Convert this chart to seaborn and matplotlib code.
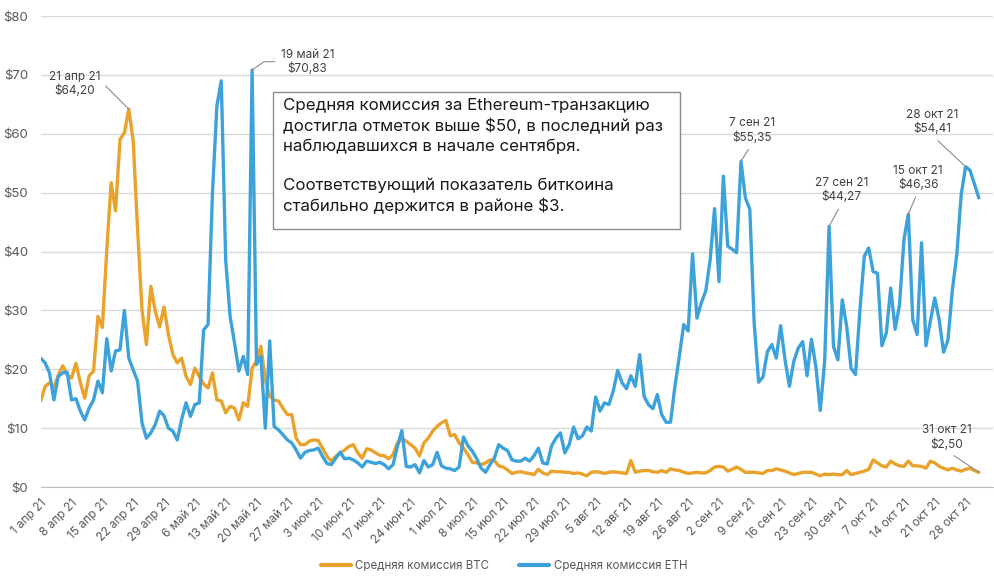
import pandas as pd
import seaborn as sns
import matplotlib.pyplot as plt
from matplotlib.patches import Rectangle

# daily average fees, 1 Apr 2021 - 31 Oct 2021
btc_apr = [14.6, 17.1, 17.7, 17.0, 19.0, 20.6, 19.1, 18.5, 21.0, 17.7, 15.1, 18.9, 19.7, 29.0, 27.1,
           40.3, 51.7, 46.9, 59.0, 60.2, 64.2, 58.8, 43.7, 30.1, 24.2, 34.1, 29.9, 27.2, 30.6, 25.9]
btc_may = [22.5, 21.1, 21.9, 18.8, 17.4, 20.2, 18.8, 17.5, 16.8, 19.4, 14.8, 14.6, 12.6, 13.7, 13.4,
           11.4, 14.3, 13.7, 20.2, 21.4, 23.9, 18.2, 15.4, 14.8, 14.6, 13.4, 12.3, 12.3, 8.3, 7.2, 7.2]
btc_jun = [7.8, 8.0, 7.9, 6.6, 5.2, 4.4, 5.2, 5.8, 6.3, 6.9, 7.2, 5.8, 4.9, 6.5, 6.3,
           5.8, 5.4, 5.3, 4.8, 5.5, 7.5, 8.2, 7.8, 7.2, 6.6, 5.3, 7.5, 8.3, 9.5, 10.3]
btc_jul = [10.9, 11.3, 8.7, 8.9, 7.5, 6.6, 5.5, 4.2, 4.1, 3.8, 4.1, 4.6, 4.5, 3.6, 3.4,
           2.9, 2.3, 2.5, 2.6, 2.4, 2.3, 2.1, 3.0, 2.4, 2.1, 2.7, 2.6, 2.6, 2.5, 2.5, 2.3]
btc_aug = [2.4, 2.2, 1.9, 2.5, 2.6, 2.5, 2.3, 2.5, 2.6, 2.5, 2.4, 2.3, 4.5, 2.5, 2.7,
           2.8, 2.8, 2.6, 2.5, 2.8, 2.5, 3.1, 2.9, 2.8, 2.5, 2.3, 2.4, 2.5, 2.4, 2.4, 2.8]
btc_sep = [3.4, 3.5, 3.4, 2.7, 3.0, 3.4, 3.0, 2.5, 2.5, 2.5, 2.4, 2.3, 2.8, 2.8, 3.1,
           2.9, 2.7, 2.4, 2.1, 2.3, 2.5, 2.5, 2.5, 2.2, 1.9, 2.2, 2.1, 2.2, 2.1, 2.1]
btc_oct = [2.8, 2.1, 2.3, 2.5, 2.7, 3.0, 4.6, 4.1, 3.6, 3.4, 4.4, 3.9, 3.6, 3.5, 4.4,
           3.6, 3.6, 3.5, 3.2, 4.4, 4.1, 3.5, 3.2, 2.9, 3.2, 2.9, 2.7, 3.0, 3.2, 2.8, 2.5]

eth_apr = [21.9, 21.1, 19.4, 14.8, 18.8, 19.4, 19.5, 14.8, 15.0, 12.9, 11.4, 13.4, 14.8, 18.0, 16.0,
           25.2, 19.7, 23.1, 23.3, 30.0, 21.9, 19.9, 18.0, 10.9, 8.3, 9.2, 10.6, 12.9, 12.1, 10.0]
eth_may = [9.5, 8.0, 11.5, 14.3, 12.0, 14.0, 14.3, 26.7, 27.6, 50.0, 64.7, 69.0, 38.6, 29.0, 24.5,
           19.7, 22.2, 19.1, 70.83, 20.8, 22.2, 10.0, 24.8, 10.3, 9.7, 8.9, 8.0, 7.5, 6.3, 4.9, 5.9]
eth_jun = [6.2, 6.3, 6.6, 5.2, 4.0, 3.8, 4.9, 5.9, 4.8, 4.9, 4.6, 4.1, 3.4, 4.4, 4.2,
           4.0, 4.2, 3.8, 3.1, 3.8, 6.9, 9.6, 3.5, 3.4, 3.8, 2.4, 4.5, 3.4, 3.8, 5.9]
eth_jul = [3.6, 3.2, 3.1, 2.8, 3.4, 8.5, 7.0, 6.1, 4.8, 3.2, 2.5, 3.8, 4.9, 7.2, 6.6,
           6.2, 4.6, 4.4, 4.4, 4.9, 4.4, 5.3, 6.6, 4.1, 3.9, 7.0, 8.3, 9.2, 5.8, 7.2, 10.2]
eth_aug = [8.2, 8.7, 10.2, 9.5, 15.3, 12.9, 14.3, 14.0, 16.3, 19.8, 17.7, 16.7, 18.9, 17.1, 22.5,
           15.4, 14.0, 13.3, 15.7, 12.3, 11.0, 11.0, 17.1, 22.2, 27.6, 26.5, 39.6, 28.7, 31.3, 33.3, 38.6]
eth_sep = [47.3, 34.9, 52.8, 40.9, 40.4, 39.8, 55.35, 49.1, 47.2, 27.8, 17.8, 18.7, 23.0, 24.2, 21.9,
           27.4, 21.6, 17.1, 21.4, 23.6, 24.7, 18.9, 25.1, 20.5, 13.0, 21.4, 44.27, 23.9, 21.6, 31.8]
eth_oct = [27.3, 20.2, 19.1, 30.0, 39.2, 40.6, 36.6, 36.3, 24.0, 26.2, 33.8, 26.8, 31.0, 42.0, 46.36,
           28.4, 25.9, 41.5, 24.0, 28.2, 32.1, 28.4, 22.9, 25.0, 33.5, 39.5, 49.7, 54.41, 53.8, 51.5, 49.1]

series_names = ["Средняя комиссия BTC", "Средняя комиссия ETH"]
month_names = {4: "апр", 5: "май", 6: "июн", 7: "июл", 8: "авг", 9: "сен", 10: "окт"}

# callouts: date, series, label, text offset (pt), where the leader leaves the label, leader style
callouts = [
    ("2021-04-21", "btc", "21 апр 21\n$64,20", (-39, 18), (1.0, 0.5), "angle,angleA=0,angleB=-45,rad=0"),
    ("2021-05-19", "eth", "19 май 21\n$70,83", (40, 6), (0.0, 0.5), "angle,angleA=0,angleB=35,rad=0"),
    ("2021-09-07", "eth", "7 сен 21\n$55,35", (8, 22), (0.5, 0.0), "arc3"),
    ("2021-09-27", "eth", "27 сен 21\n$44,27", (9, 26), (0.5, 0.0), "arc3"),
    ("2021-10-15", "eth", "15 окт 21\n$46,36", (7, 26), (0.5, 0.0), "arc3"),
    ("2021-10-28", "eth", "28 окт 21\n$54,41", (-24, 32), (0.5, 0.0), "arc3"),
    ("2021-10-31", "btc", "31 окт 21\n$2,50", (-23, 25), (0.5, 0.0), "arc3"),
]

note = ("Средняя комиссия за Ethereum-транзакцию\n"
        "достигла отметок выше $50, в последний раз\n"
        "наблюдавшихся в начале сентября.\n\n"
        "Соответствующий показатель биткоина\n"
        "стабильно держится в районе $3.")

btc = btc_apr + btc_may + btc_jun + btc_jul + btc_aug + btc_sep + btc_oct
eth = eth_apr + eth_may + eth_jun + eth_jul + eth_aug + eth_sep + eth_oct
dates = pd.date_range("2021-04-01", "2021-10-31", freq="D")

df = pd.DataFrame({"date": dates, series_names[0]: btc, series_names[1]: eth})
long_df = df.melt(id_vars="date", var_name="series", value_name="fee")

sns.set_style("white")
plt.rcParams["font.family"] = ["Inter", "DejaVu Sans"]

orange = "#E9A22B"
blue = "#3DA1DA"
grey_txt = "#595959"

fig = plt.figure(figsize=(9.95, 5.8), dpi=100)
ax = fig.add_axes([0.0409, 0.1603, 0.957, 0.812])

sns.lineplot(data=long_df, x="date", y="fee", hue="series", hue_order=series_names,
             palette=[orange, blue], linewidth=2.4, ax=ax)

ax.set_xlim(dates[0], dates[0] + pd.Timedelta(days=216.2))
ax.set_ylim(0, 80)
ax.set_yticks(range(0, 81, 10))
ax.set_yticklabels([f"${v}" for v in range(0, 81, 10)])
ax.yaxis.grid(True, color="#D9D9D9", linewidth=1)
ax.set_axisbelow(True)

ticks = pd.date_range("2021-04-01", "2021-10-31", freq="7D")
ax.set_xticks(ticks)
ax.set_xticklabels([f"{d.day} {month_names[d.month]} 21" for d in ticks],
                   rotation=45, ha="right", rotation_mode="anchor")
ax.set_xlabel("")
ax.set_ylabel("")

for side in ["top", "right", "left"]:
    ax.spines[side].set_visible(False)
ax.spines["bottom"].set_color("#BFBFBF")
ax.tick_params(axis="x", length=5, color="#BFBFBF", labelsize=8.5, labelcolor=grey_txt, pad=2)
ax.tick_params(axis="y", length=0, labelsize=9.5, labelcolor=grey_txt, pad=9)

sns.move_legend(ax, "center", bbox_to_anchor=(0.4865, -0.168), ncol=2, title=None,
                frameon=False, fontsize=8.3, handlelength=2.6, columnspacing=2.6,
                handletextpad=0.4)
for t in ax.get_legend().get_texts():
    t.set_color(grey_txt)
for line in ax.get_legend().get_lines():
    line.set_linewidth(3)

values = {"btc": dict(zip(dates, btc)), "eth": dict(zip(dates, eth))}
for day, key, label, offset, rel, style in callouts:
    d = pd.Timestamp(day)
    ax.annotate(label, xy=(d, values[key][d]), xytext=offset, textcoords="offset points",
                ha="center", va="center", fontsize=8.5, color="#404040", linespacing=1.2,
                arrowprops=dict(arrowstyle="-", color="#8C8C8C", linewidth=0.8, relpos=rel,
                                connectionstyle=style, shrinkA=2, shrinkB=0))

# note box
fig.patches.append(Rectangle((273 / 995, 1 - 229 / 580), 407 / 995, 137 / 580,
                             transform=fig.transFigure, facecolor="white",
                             edgecolor="#8C8C8C", linewidth=1, zorder=5))
fig.text(283 / 995, 1 - 98 / 580, note, ha="left", va="top", fontsize=12.2,
         color="#1A1A1A", linespacing=1.35, zorder=6)

fig.savefig("out.png", dpi=100, facecolor="white")
